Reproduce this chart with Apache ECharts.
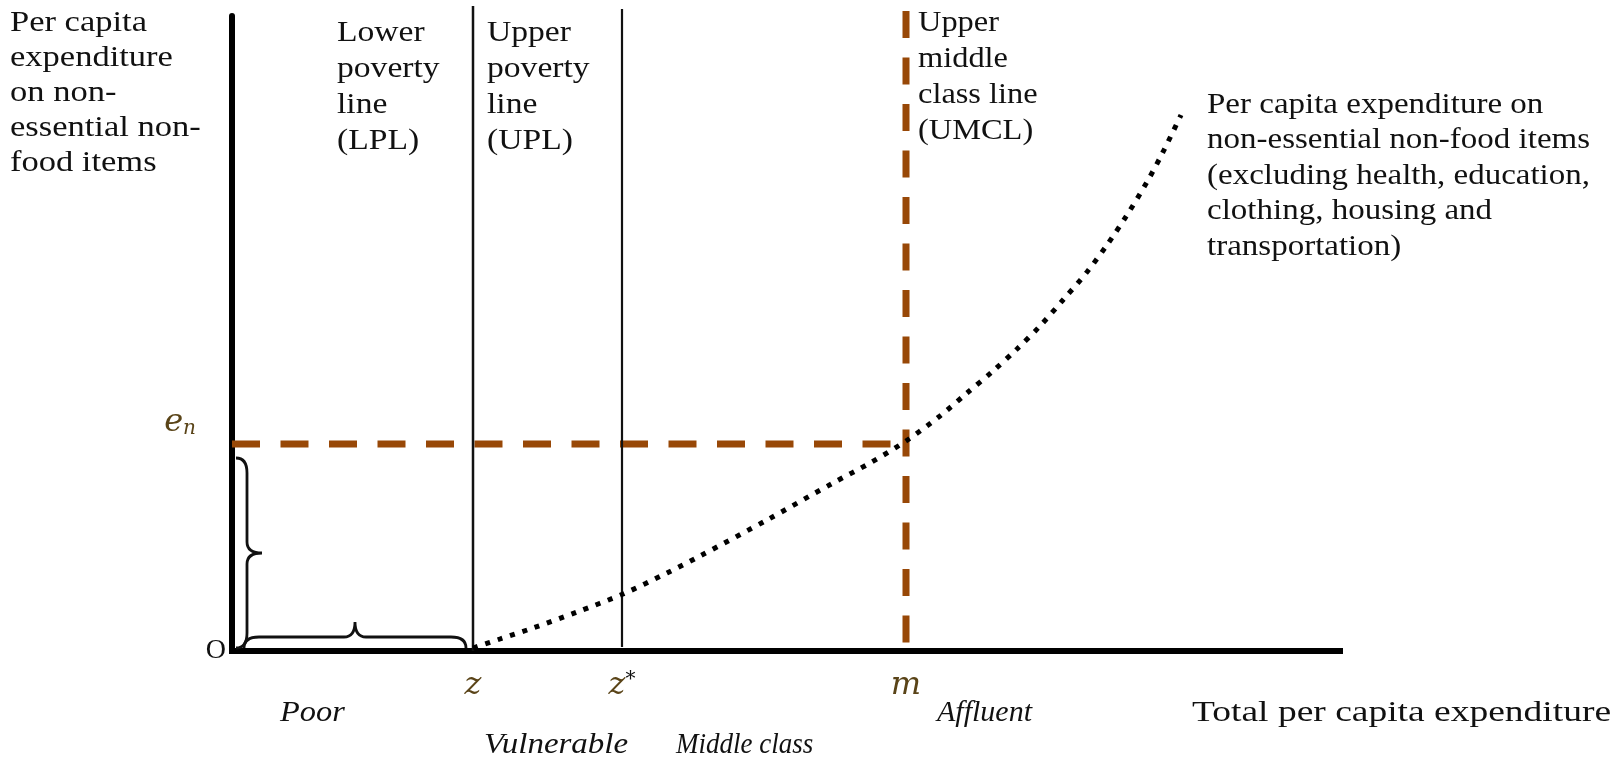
<!DOCTYPE html>
<html>
<head>
<meta charset="utf-8">
<script src="https://cdn.jsdelivr.net/npm/echarts@6/dist/echarts.min.js"></script>
<style>
  html, body { margin: 0; padding: 0; background: #fff; }
  #chart { width: 1614px; height: 764px; }
</style>
</head>
<body>
<div id="chart"></div>
<script>
// units are arbitrary: x = total per capita expenditure, y = non-essential non-food spending
const xMarks = [24.1, 39.0, 67.4]          // z, z*, m
const xMarkNames = ['z', 'z*', 'm']
const en = 20.7
const lineTops = [64.5, 64.2, 64.0]        // LPL, UPL, UMCL
const curveX = [24.1, 26.8, 30.1, 34.5, 39.1, 43.5, 46.8, 53.5, 60.1, 63.8, 67.4,
  70.8, 73.5, 76.1, 78.5, 80.8, 83.1, 85.5, 87.5, 89.5, 91.5, 93.1, 94.9]
const curveY = [0.3, 1.2, 2.3, 3.9, 5.7, 7.8, 9.5, 13.1, 16.8, 18.8, 21.0,
  23.5, 25.8, 28.0, 30.2, 32.5, 35.1, 37.9, 40.6, 43.6, 46.9, 49.9, 53.6]
const braceFrom = [[0.4, 19.3], [1.2, 0.3]]
const braceTo = [[0.4, 0.3], [23.4, 0.3]]

const serif = 'Liberation Serif'
const brown = '#984807'
const mathColor = '#5a4418'

function label(x, y, str, opts) {
  opts = opts || {}
  return {
    type: 'text',
    x: x,
    y: y,
    scaleX: opts.sx || 1,
    silent: true,
    style: {
      text: str,
      fontFamily: serif,
      fontSize: opts.size || 30,
      fontStyle: opts.italic ? 'italic' : 'normal',
      fill: '#111',
      lineHeight: opts.lh || 36,
      verticalAlign: opts.va || 'top'
    }
  }
}

// curly brace between two data points, bulging to the left of the A->B direction
function renderBrace(params, api) {
  const a = api.coord([api.value(0), api.value(1)])
  const b = api.coord([api.value(2), api.value(3)])
  const len = Math.hypot(b[0] - a[0], b[1] - a[1])
  const ux = (b[0] - a[0]) / len
  const uy = (b[1] - a[1]) / len
  const nx = uy
  const ny = -ux
  const h1 = 11
  const h2 = 26
  const r = 15
  const r2 = 11
  const p = (s, t) => (a[0] + ux * s + nx * t).toFixed(1) + ' ' + (a[1] + uy * s + ny * t).toFixed(1)
  const half = len / 2
  const d = 'M' + p(0, 0) +
    ' Q' + p(0, h1) + ' ' + p(r, h1) +
    ' L' + p(half - r2, h1) +
    ' Q' + p(half, h1) + ' ' + p(half, h2) +
    ' Q' + p(half, h1) + ' ' + p(half + r2, h1) +
    ' L' + p(len - r, h1) +
    ' Q' + p(len, h1) + ' ' + p(len, 0)
  return {
    type: 'path',
    shape: { pathData: d },
    style: { stroke: '#111', lineWidth: 2.8, fill: 'none' }
  }
}

const chart = echarts.init(document.getElementById('chart'))
chart.setOption({
  animation: false,
  backgroundColor: '#fff',
  grid: { left: 232, top: 16, right: 274, bottom: 113 },
  xAxis: {
    type: 'value',
    min: 0,
    max: 110.8,
    axisLine: { show: true, onZero: false, lineStyle: { color: '#000', width: 6, cap: 'square' } },
    axisTick: { show: false },
    splitLine: { show: false },
    axisLabel: {
      customValues: xMarks,
      margin: 19,
      formatter: function (v) {
        let i = 0
        xMarks.forEach((m, k) => { if (Math.abs(m - v) < 0.01) i = k })
        const name = xMarkNames[i]
        return name.length > 1 ? '{m|' + name[0] + '}{s|' + name.slice(1) + '}' : '{m|' + name + '}'
      },
      rich: {
        m: { fontFamily: 'DejaVu Serif', fontStyle: 'italic', fontSize: 32, color: mathColor },
        s: { fontFamily: 'DejaVu Serif', fontSize: 20, color: '#111', verticalAlign: 'top' }
      }
    }
  },
  yAxis: {
    type: 'value',
    min: 0,
    max: 63.5,
    axisLine: { show: true, onZero: false, lineStyle: { color: '#000', width: 6 } },
    axisTick: { show: false },
    splitLine: { show: false },
    axisLabel: {
      customValues: [0],
      margin: 6,
      formatter: () => 'O',
      color: '#111',
      fontFamily: serif,
      fontSize: 28
    }
  },
  series: [
    {
      type: 'line',
      data: curveX.map((x, i) => [x, curveY[i]]),
      smooth: 0.3,
      symbol: 'none',
      clip: false,
      z: 5,
      lineStyle: { color: '#000', width: 5, type: [5, 8] }
    },
    {
      type: 'line',
      data: [[0, en], [xMarks[2], en]],
      symbol: 'none',
      lineStyle: { color: brown, width: 7, type: [28, 20.5] },
      markPoint: {
        symbol: 'circle',
        symbolSize: 0,
        data: [{ coord: [0, en] }],
        label: {
          show: true,
          position: 'left',
          distance: 36,
          offset: [0, -21],
          formatter: '{e|e}{n|n}',
          rich: {
            e: { fontFamily: 'DejaVu Serif', fontStyle: 'italic', fontSize: 32, color: mathColor },
            n: { fontFamily: 'DejaVu Serif', fontStyle: 'italic', fontSize: 20, color: mathColor, verticalAlign: 'bottom' }
          }
        }
      }
    },
    {
      type: 'line',
      data: [[xMarks[0], 0], [xMarks[0], lineTops[0]]],
      symbol: 'none',
      clip: false,
      lineStyle: { color: '#111', width: 2.5 }
    },
    {
      type: 'line',
      data: [[xMarks[1], 0.4], [xMarks[1], lineTops[1]]],
      symbol: 'none',
      clip: false,
      lineStyle: { color: '#111', width: 2.2 }
    },
    {
      type: 'line',
      data: [[xMarks[2], lineTops[2]], [xMarks[2], 0.5]],
      symbol: 'none',
      clip: false,
      lineStyle: { color: brown, width: 7, type: [27, 19.5] }
    },
    {
      type: 'custom',
      renderItem: renderBrace,
      clip: false,
      encode: { x: [0, 2], y: [1, 3] },
      data: braceFrom.map((f, i) => [f[0], f[1], braceTo[i][0], braceTo[i][1]])
    }
  ],
  graphic: [
    label(10, 6, 'Per capita\nexpenditure\non non-\nessential non-\nfood items', { sx: 1.15, lh: 35 }),
    label(337, 15, 'Lower\npoverty\nline\n(LPL)', { sx: 1.12 }),
    label(487, 15, 'Upper\npoverty\nline\n(UPL)', { sx: 1.12 }),
    label(918, 5, 'Upper\nmiddle\nclass line\n(UMCL)', { sx: 1.08 }),
    label(1207, 87, 'Per capita expenditure on\nnon-essential non-food items\n(excluding health, education,\nclothing, housing and\ntransportation)', { sx: 1.1, lh: 35.5 }),
    label(280, 713, 'Poor', { italic: true, va: 'middle', sx: 1.08 }),
    label(484, 745, 'Vulnerable', { italic: true, va: 'middle', sx: 1.1 }),
    label(676, 745, 'Middle class', { italic: true, va: 'middle', sx: 0.9 }),
    label(937, 713, 'Affluent', { italic: true, va: 'middle' }),
    label(1192, 713, 'Total per capita expenditure', { va: 'middle', sx: 1.25 })
  ]
})
</script>
</body>
</html>
